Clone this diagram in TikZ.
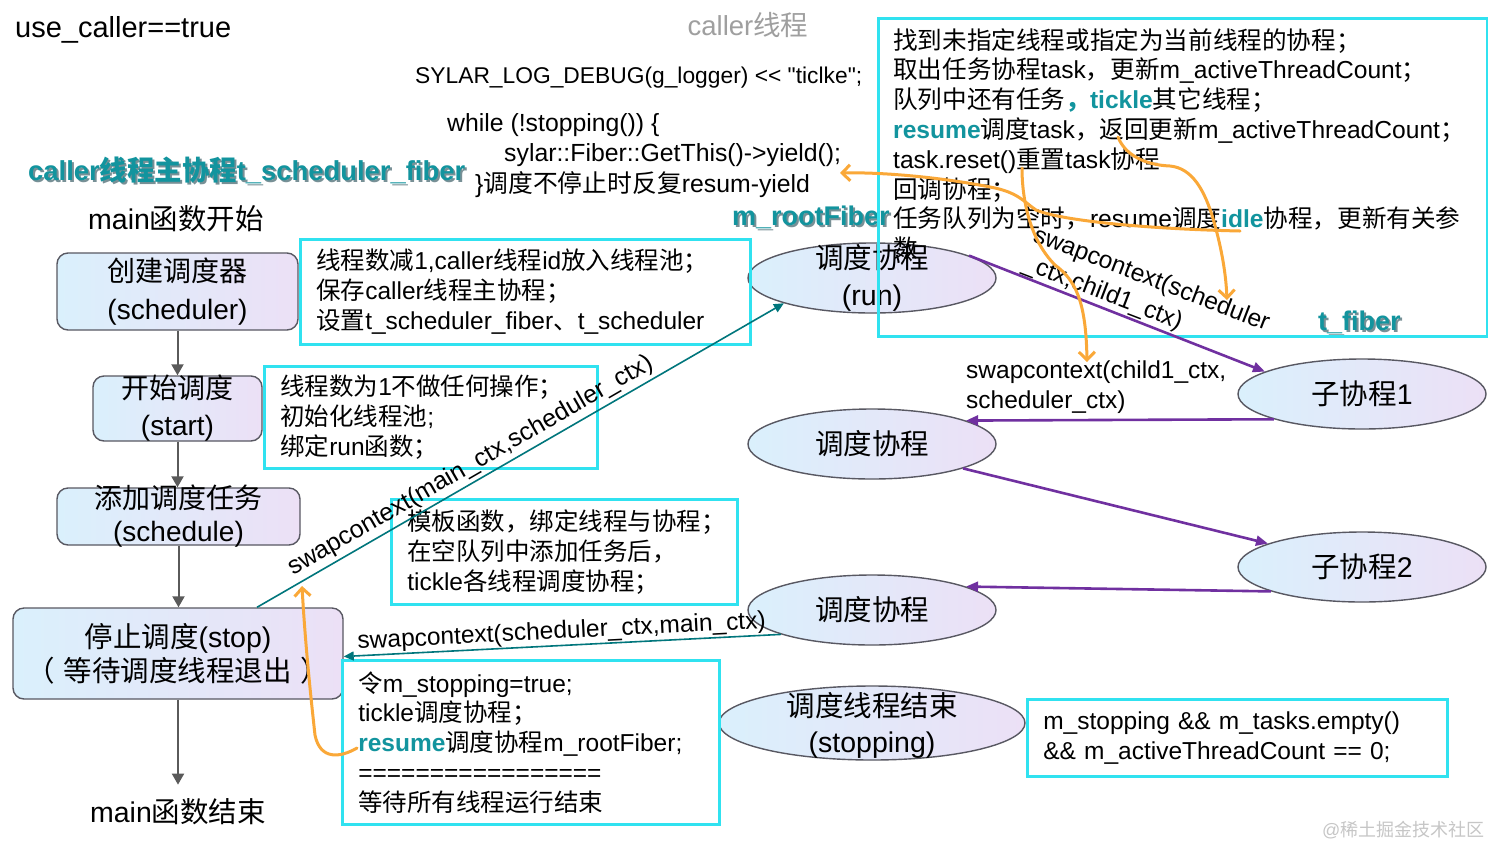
\documentclass[tikz,border=0pt]{standalone}
\usepackage{fontspec}
\setmainfont{Liberation Sans}
\newfontfamily\codefont{Liberation Sans}
\newfontfamily\cjk{Noto Sans CJK SC}
\usetikzlibrary{arrows.meta,shapes.geometric,calc}
\definecolor{boxcyan}{RGB}{48,226,240}
\definecolor{tealtx}{RGB}{18,148,158}
\definecolor{tealsh}{RGB}{30,70,80}
\definecolor{tealln}{RGB}{0,118,124}
\definecolor{purp}{RGB}{112,48,160}
\definecolor{orng}{RGB}{250,168,56}
\definecolor{nborder}{RGB}{88,88,98}
\definecolor{fillA}{RGB}{218,240,252}
\definecolor{fillB}{RGB}{236,224,246}
\definecolor{arrgray}{RGB}{90,90,90}
\newcommand\zh[1]{{\cjk #1}}
\newcommand\tl[1]{{\bfseries\color{tealtx}#1}}
\newcommand\fs[2]{\fontsize{#1}{#2}\selectfont}
\begin{document}
\begin{tikzpicture}[x=1pt,y=-1pt,
 flow/.style={draw=nborder, line width=1.4pt, rounded corners=11pt, left color=fillA, right color=fillB, align=center, inner sep=0pt},
 ell/.style={ellipse, draw=nborder, line width=1.4pt, left color=fillA, right color=fillB, align=center, inner sep=0pt, minimum width=248pt, minimum height=70pt, font=\fs{28.5}{37}},
 cbox/.style={draw=boxcyan, line width=2.6pt, align=left, anchor=north west, inner xsep=16pt, inner ysep=0pt, font=\fs{24.5}{30}},
 plain/.style={inner sep=0pt, anchor=west},
 ttl/.style={inner sep=0pt, anchor=west, font=\bfseries\fs{27}{27}, text=tealtx},
 ttlsh/.style={ttl, text=tealsh, text opacity=0.6},
 garrow/.style={draw=arrgray, line width=2pt, -{Triangle[length=11pt,width=12pt]}},
 tarrow/.style={draw=tealln, line width=1.6pt, -{Triangle[length=10pt,width=9pt]}},
 parrow/.style={draw=purp, line width=2.6pt, -{Triangle[length=12pt,width=10pt]}},
 oarrow/.style={draw=orng, line width=3pt, line cap=round, -{Straight Barb[length=8pt,width=16pt]}},
 lbl/.style={font=\fs{24.5}{30}, inner sep=1pt}
]
\useasboundingbox (0,0) rectangle (1488,847);
\fill[white] (0,0) rectangle (1488,847);

% free texts
\node[plain, font=\fs{29}{29}] (uc) at (15,30) {use\_caller==true};
\node[inner sep=0pt, font=\fs{27.5}{27.5}, text=gray!75] (ct) at (748,25) {caller\zh{线程}};
\node[plain, font=\codefont\fs{22.8}{22.8}] (code1) at (415,78) {SYLAR\_LOG\_DEBUG(g\_logger) <\kern0pt< "ticlke";};
\node[plain, font=\codefont\fs{24.8}{24.8}] (code2) at (447,125) {while (!stopping()) \{};
\node[plain, font=\codefont\fs{24.8}{24.8}] (code3) at (504,155) {sylar::Fiber::GetThis()->yield();};
\node[plain, font=\fs{24.8}{24.8}] (code4) at (475,185) {\}\zh{调度不停止时反复}resum-yield};
\node[ttlsh, font=\bfseries\fs{27.4}{27.4}] (t1s) at (30,172) {caller\zh{线程主协程}t\_scheduler\_fiber};
\node[ttl, font=\bfseries\fs{27.4}{27.4}] (t1) at (28,170) {caller\zh{线程主协程}t\_scheduler\_fiber};
\node[ttlsh] (t2s) at (734,219) {m\_rootFiber};
\node[ttl] (t2) at (732,217) {m\_rootFiber};
\node[ttlsh] (t3s) at (1320,324) {t\_fiber};
\node[ttl] (t3) at (1318,322) {t\_fiber};
\node[plain, font=\fs{28.5}{28.5}] (mstart) at (88,219) {main\zh{函数开始}};
\node[inner sep=0pt, font=\fs{28.5}{28.5}] (mend) at (178,812) {main\zh{函数结束}};
\node[plain, font=\fs{18}{18}, text=gray!45] (wm) at (1322,830) {@\zh{稀土掘金技术社区}};

% flow nodes
\node[flow, minimum width=241pt, minimum height=77pt, font=\fs{28}{38}] (sched) at (177.5,291.5) {\zh{创建调度器}\\(scheduler)};
\node[flow, minimum width=169pt, minimum height=65pt, label={[font=\fs{28}{37}, align=center]center:{\zh{开始调度}\\(start)}}] (start) at (177.5,408.5) {};
\node[flow, minimum width=243pt, minimum height=57pt, label={[font=\fs{28}{33}, align=center]center:{\zh{添加调度任务}\\(schedule)}}] (sadd) at (178.5,516.5) {};
\node[flow, minimum width=330pt, minimum height=91pt, font=\fs{28.5}{34}] (stop) at (178,653.5) {\zh{停止调度}(stop)\\\zh{（\kern9pt 等待调度线程退出\kern9pt ）}};

% ellipses
\node[ell, label={[font=\fs{28.5}{37}, align=center]center:{\zh{调度协程}\\(run)}}] (run) at (872,278) {};
\node[ell] (c1) at (1362,394) {\zh{子协程}1};
\node[ell] (s2) at (872,444) {\zh{调度协程}};
\node[ell] (c2) at (1362,567) {\zh{子协程}2};
\node[ell] (s3) at (872,610) {\zh{调度协程}};
\node[ell, minimum width=306pt, minimum height=74pt, label={[font=\fs{28.5}{36}, align=center, yshift=-2pt]center:{\zh{调度线程结束}\\(stopping)}}] (fin) at (872,723) {};

% cyan boxes
\node[cbox, minimum width=450pt, minimum height=105pt, text width=418pt] (b1) at (299,238) {\zh{线程数减}1,caller\zh{线程}id\zh{放入线程池；}\\\zh{保存}caller\zh{线程主协程；}\\\zh{设置}t\_scheduler\_fiber\zh{、}t\_scheduler};
\node[cbox, minimum width=333pt, minimum height=102pt, text width=301pt] (b2) at (263,365) {\zh{线程数为}1\zh{不做任何操作；}\\\zh{初始化线程池};\\\zh{绑定}run\zh{函数；}};
\node[cbox, minimum width=346pt, minimum height=105pt, text width=314pt] (b3) at (390,498) {\zh{模板函数，绑定线程与协程；}\\\zh{在空队列中添加任务后，}\\tickle\zh{各线程调度协程；}};
\node[cbox, minimum width=377pt, minimum height=164pt, text width=345pt, font=\fs{24.5}{29.75}] (b4) at (341,659) {\zh{令}m\_stopping=true;\\tickle\zh{调度协程；}\\\tl{resume}\zh{调度协程}m\_rootFiber;\\=================\\\zh{等待所有线程运行结束}};
\node[cbox, minimum width=420pt, minimum height=77pt, text width=388pt] (b5) at (1026,698) {m\_stopping \&\& m\_tasks.empty()\\\&\& m\_activeThreadCount == 0;};
\node[cbox, minimum width=609pt, minimum height=318pt] (tr) at (877,17) {};
\node[anchor=north west, inner sep=0pt, align=left, font=\fs{24.6}{29.8}] (trt) at (893,28) {\zh{找到未指定线程或指定为当前线程的协程；}\\
\zh{取出任务协程}task\zh{，更新}m\_activeThreadCount\zh{；}\\
\zh{队列中还有任务}\tl{\zh{，}tickle}\zh{其它线程；}\\
\tl{resume}\zh{调度}task\zh{，返回更新}m\_activeThreadCount\zh{；}\\
task.reset()\zh{重置}task\zh{协程}\\
\zh{回调协程；}\\
\zh{任务队列为空时，}resume\zh{调度}\tl{idle}\zh{协程，更新有关参}\\
\zh{数}};

% flow arrows
\draw[garrow] (sched.south) -- (start.north);
\draw[garrow] (start.south) -- (start.south |- sadd.north);
\draw[garrow] (sadd.south) -- (sadd.south |- stop.north);
\draw[garrow] (stop.south) -- ([yshift=14pt]mend.north);

% teal connectors
\draw[tarrow] ([xshift=79pt]stop.north) -- node[lbl, sloped, above=2pt, pos=0.42, font=\fs{25}{30}] (lA) {swapcontext(main\_ctx,scheduler\_ctx)} (run.196);
\draw[tarrow] (s3.195) -- node[lbl, sloped, above, pos=0.5] (lB) {swapcontext(scheduler\_ctx,main\_ctx)} ([yshift=-3pt]stop.east);

% purple connectors
\draw[parrow] (run.13) -- (c1.167);
\draw[parrow] (c1.196) -- (s2.14);
\draw[parrow] (s2.345) -- (c2.166);
\draw[parrow] (c2.195) -- (s3.14);
\node[lbl, rotate=-21, align=left] (lC) at (1146,294) {swapcontext(scheduler\\\_ctx,child1\_ctx)};
\node[lbl, anchor=west, align=left] (lD) at (965,387) {swapcontext(child1\_ctx,\\scheduler\_ctx)};

% orange annotation strokes
\coordinate (o1s) at (1240,231); \coordinate (o1e) at (840,173);
\coordinate (o2s) at (1118,137); \coordinate (o2e) at (1227,300);
\coordinate (o3s) at (1022,168); \coordinate (o3e) at (1087,362);
\coordinate (o4s) at (357,748);  \coordinate (o4e) at (302,586);
\draw[oarrow] (o1s) .. controls (1150,229) and (1062,221) .. (1036,210) .. controls (1024,202) and (1018,192) .. (990,187) .. controls (945,178) and (885,172) .. (o1e);
\draw[oarrow] (o2s) .. controls (1125,155) and (1145,165) .. (1170,166) .. controls (1192,168) and (1205,190) .. (1214,222) .. controls (1222,250) and (1226,275) .. (o2e);
\draw[oarrow] (o3s) .. controls (1022,200) and (1030,240) .. (1055,265) .. controls (1075,280) and (1086,300) .. (o3e);
\draw[oarrow] (o4s) .. controls (340,758) and (320,760) .. (315,735) .. controls (310,690) and (305,640) .. (o4e);
\end{tikzpicture}
\end{document}
